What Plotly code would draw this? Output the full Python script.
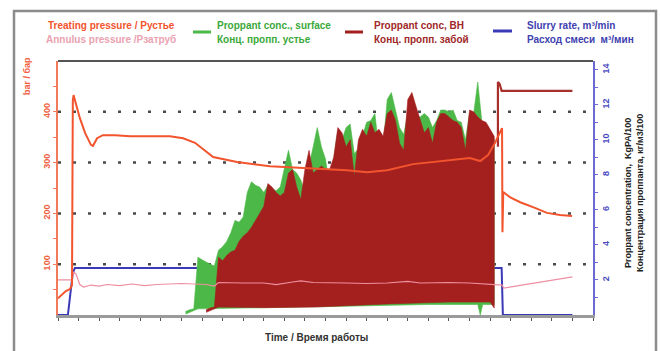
import plotly.graph_objects as go

# ---- treating pressure, bar (left axis) ----
t_treat = [0, 1.2, 1.9, 2.9, 3.4, 3.6, 3.8, 4.1, 5.3, 6.6, 8.0, 8.5, 9.5, 10.9, 13.9,
           17.5, 22.4, 27.2, 30.4, 33.3, 37.7, 43.5, 51.5, 62.0, 70.2, 75.1, 80.0,
           86.3, 94.5, 100.1, 102.6, 104.5, 106.2, 107.7, 107.9, 108.0, 108.2,
           109.8, 112.3, 115.9, 118.8, 122.0, 124.9]
p_treat = [33, 43, 47, 51, 59, 423, 433, 423, 388, 358, 335, 333, 348, 354, 354,
           352, 352, 352, 348, 339, 311, 301, 293, 289, 285, 281, 285,
           297, 305, 309, 303, 315, 339, 364, 368, 163, 242,
           232, 222, 211, 201, 197, 195]

# ---- annulus pressure, bar (left axis) ----
t_ann = [0, 3.4, 3.8, 4.4, 5.3, 6.2, 8, 10, 12, 15, 18, 21, 24, 27, 30, 33, 36, 38,
         39, 45, 50, 53, 55, 57, 59, 62, 70, 75, 80, 85, 88, 95, 100, 106, 107.9,
         108.3, 112, 118, 125]
p_ann = [69, 69, 85, 80, 60, 55, 59, 57, 60, 58, 61, 58, 60, 61, 62, 61, 60, 57,
         64, 63, 63, 60, 63, 65, 67, 64, 63, 62, 63, 66, 63, 64, 63, 61, 59,
         53, 58, 66, 75]

# ---- slurry rate, m3/min (right axis) ----
t_rate = [0, 2.4, 3.0, 3.6, 4.1, 107.8, 108.1, 125]
q_rate = [0, 0, 1.2, 2.4, 2.68, 2.68, 0, 0]

# ---- proppant concentration at surface (right axis) ----
t_surf = list(range(31, 107))
conc_surf = [0.2, 0.3, 0.35, 3.3, 3.15, 3.0, 2.9, 2.8, 3.7, 3.9, 4.2, 4.7, 5.4, 5.3,
             5.6, 7.0, 7.6, 7.4, 7.3, 7.0, 7.4, 7.2, 7.1, 7.3, 8.3, 9.4, 8.3, 8.1,
             7.7, 7.0, 8.5, 9.6, 10.7, 9.6, 8.9, 7.3, 8.9, 10.5, 10.0, 10.7, 10.9,
             9.2, 9.5, 10.2, 11.0, 11.1, 11.5, 9.4, 9.6, 12.3, 12.7, 11.7, 10.7,
             10.3, 11.5, 12.0, 11.3, 11.3, 11.5, 11.3, 10.7, 11.1, 11.7, 11.7,
             11.6, 11.7, 11.1, 11.0, 10.0, 11.5, 11.5, 13.3, 11.0, 10.9, 10.5, 10.0]
t_surf_low = [31, 34, 39, 50, 70, 90, 102, 102.6, 103.2, 106]
conc_surf_low = [0.05, 0.35, 0.35, 0.4, 0.5, 0.6, 0.6, 0.0, 0.6, 0.6]

# ---- proppant concentration bottomhole (right axis) ----
t_bh = list(range(36, 107))
conc_bh = [0.3, 0.4, 0.45, 3.3, 3.1, 3.4, 3.6, 3.7, 4.2, 4.5, 4.7, 5.0, 5.4, 5.8,
           6.2, 7.5, 7.3, 7.0, 6.8, 7.0, 8.1, 8.3, 7.3, 6.6, 8.3, 9.4, 8.1, 8.3,
           8.5, 8.3, 8.3, 9.0, 10.7, 10.4, 9.6, 10.0, 7.9, 10.0, 10.6, 10.2, 11.0,
           10.4, 10.6, 10.2, 11.5, 11.7, 11.1, 9.8, 9.4, 12.3, 12.7, 11.9, 11.1,
           10.4, 10.7, 9.8, 11.0, 11.5, 11.5, 11.3, 11.1, 11.0, 10.7, 9.4, 11.7,
           11.6, 11.3, 11.1, 11.0, 10.6, 10.2]
t_bh_low = [36, 39, 50, 63, 80, 95, 105, 106]
conc_bh_low = [0.15, 0.45, 0.42, 0.46, 0.63, 0.74, 0.74, 0.4]
t_bh_tail = [106.9, 106.9, 107.3, 107.8, 125]
conc_bh_tail = [9.6, 13.3, 13.2, 12.8, 12.8]

# ---- axis ticks ----
p_ticks = [100, 200, 300, 400]
p_minor = [50, 150, 250, 350, 450]
c_ticks = [2, 4, 6, 8, 10, 12, 14]
c_minor = [1, 3, 5, 7, 9, 11, 13]

C_TREAT = "#f2542d"
C_ANN = "#ee8ea0"
C_SURF = "#4cb847"
C_BH = "#a3201f"
C_RATE = "#3a3ab6"
FONT = "Liberation Sans"

# plot area in pixels: x 58..593, y 61..315
L, R, T, B = 58, 593, 61, 315
W, H = 660, 351


def xp(px):
    return (px - L) / (R - L)


def yp(py):
    return (B - py) / (B - T)


fig = go.Figure()

# concentration / rate traces on the base axis (drawn beneath pressures)
fig.add_trace(go.Scatter(x=t_rate, y=q_rate, mode="lines", yaxis="y",
                         line=dict(color=C_RATE, width=2)))
fig.add_trace(go.Scatter(x=t_surf + t_surf_low[::-1], y=conc_surf + conc_surf_low[::-1],
                         mode="lines", fill="toself", fillcolor=C_SURF, yaxis="y",
                         line=dict(color=C_SURF, width=0.6)))
fig.add_trace(go.Scatter(x=t_bh + t_bh_low[::-1], y=conc_bh + conc_bh_low[::-1],
                         mode="lines", fill="toself", fillcolor=C_BH, yaxis="y",
                         line=dict(color=C_BH, width=0.6)))
fig.add_trace(go.Scatter(x=t_bh_tail, y=conc_bh_tail, mode="lines", yaxis="y",
                         line=dict(color="#a8302c", width=2.2)))

# pressures on the overlaying axis
fig.add_trace(go.Scatter(x=t_ann, y=p_ann, mode="lines", yaxis="y2",
                         line=dict(color=C_ANN, width=1.2)))
fig.add_trace(go.Scatter(x=t_treat, y=p_treat, mode="lines", yaxis="y2",
                         line=dict(color=C_TREAT, width=2)))

fig.update_layout(
    width=W, height=H,
    margin=dict(l=L, r=W - R, t=T, b=H - B, pad=0),
    paper_bgcolor="white", plot_bgcolor="white",
    showlegend=False,
    font=dict(family=FONT, size=9),
    xaxis=dict(range=[0, 130], showline=True, linecolor="#9a9a9a", linewidth=3,
               ticks="outside", ticklen=3, tickcolor="#555", dtick=5, tick0=0,
               showticklabels=False, showgrid=False, zeroline=False),
    yaxis=dict(range=[0, 14.5], side="right", showline=True, linecolor="#6a6ad0",
               linewidth=1.5, ticks="outside", ticklen=3, tickcolor="#6a6ad0",
               tickvals=c_ticks, tickangle=-90,
               tickfont=dict(color="#4a4ac0", size=9, family=FONT, weight="bold"),
               minor=dict(tickvals=c_minor, ticks="outside", ticklen=3,
                          tickcolor="#6a6ad0", showgrid=False),
               showgrid=False, zeroline=False),
    yaxis2=dict(range=[0, 500], side="left", overlaying="y", showline=True,
                linecolor="#f27a5a", linewidth=1.5, ticks="outside", ticklen=3,
                tickcolor="#f27a5a", tickvals=p_ticks, tickangle=-90,
                tickfont=dict(color="#f0603e", size=9, family=FONT, weight="bold"),
                minor=dict(tickvals=p_minor, ticks="outside", ticklen=3,
                           tickcolor="#f27a5a", showgrid=False),
                showgrid=False, zeroline=False),
)

# dotted pressure grid, kept beneath every trace
shapes = [dict(type="line", xref="paper", yref="y2", x0=0, x1=1, y0=v, y1=v,
               layer="below", line=dict(color="#4a4a4a", width=2.5, dash="3px,12px"))
          for v in p_ticks]

shapes += [
    # frame around the whole panel
    dict(type="rect", xref="paper", yref="paper", x0=xp(14), x1=xp(656),
         y0=yp(380), y1=yp(11), line=dict(color="#8c8c8c", width=2.5),
         fillcolor="rgba(0,0,0,0)", layer="above"),
    # top border of plot area
    dict(type="line", xref="paper", yref="paper", x0=0, x1=1, y0=1, y1=1,
         line=dict(color="#555", width=2)),
    # legend samples
    dict(type="line", xref="paper", yref="paper", x0=xp(193), x1=xp(211),
         y0=yp(32), y1=yp(32), line=dict(color=C_SURF, width=3)),
    dict(type="line", xref="paper", yref="paper", x0=xp(345), x1=xp(363),
         y0=yp(32), y1=yp(32), line=dict(color=C_BH, width=3)),
    dict(type="line", xref="paper", yref="paper", x0=xp(493), x1=xp(512),
         y0=yp(31), y1=yp(31), line=dict(color=C_RATE, width=3)),
]


def note(text, px, py, color, size=10, xanchor="left", angle=0):
    return dict(text=text, xref="paper", yref="paper", x=xp(px), y=yp(py),
                xanchor=xanchor, yanchor="middle", showarrow=False,
                textangle=angle, font=dict(family=FONT, size=size, color=color))


annotations = [
    note("<b>Treating pressure / Рустье</b>", 111, 25, C_TREAT, xanchor="center"),
    note("<b>Annulus pressure /Рзатруб</b>", 111, 40, "#eaa2b0", xanchor="center"),
    note("<b>Proppant conc., surface</b>", 215, 25, "#3aa83a"),
    note("<b>Конц. пропп. устье</b>", 215, 40, "#3aa83a"),
    note("<b>Proppant conc, BH</b>", 372, 25, "#a02828"),
    note("<b>Конц. пропп. забой</b>", 372, 40, "#a02828"),
    note("<b>Slurry rate, m³/min</b>", 525, 25, "#4040b0"),
    note("<b>Расход смеси  м³/мин</b>", 525, 40, "#4040b0"),
    note("<b>bar / бар</b>", 27, 76, "#f0603e", size=9, xanchor="center", angle=-90),
    note("<b>Proppant concentration,  KgPA/100<br>Концентрация проппанта, кг/м3/100</b>",
         634, 193, "#222", size=9, xanchor="center", angle=-90),
    note("<b>Time / Время работы</b>", 316, 337, "#333", size=10, xanchor="center"),
]

fig.update_layout(shapes=shapes, annotations=annotations)
fig.write_html("out.html")
